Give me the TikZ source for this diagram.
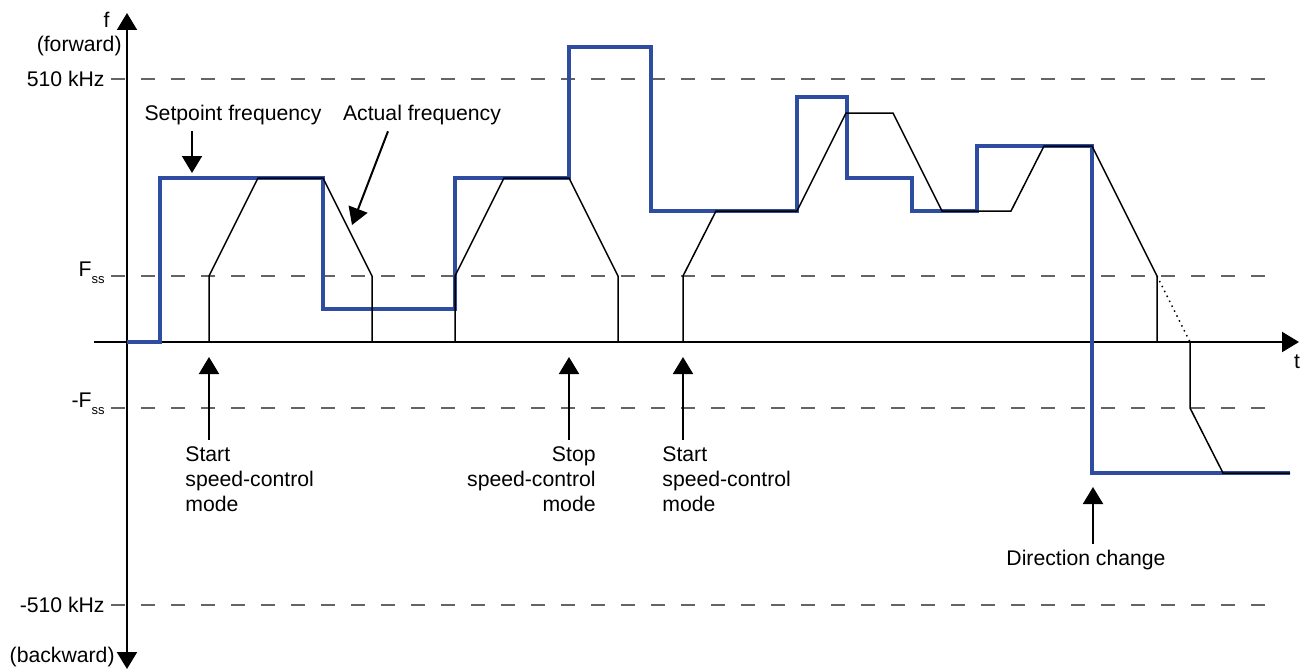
\documentclass[tikz,border=0pt]{standalone}
\usepackage{fontspec}
\setmainfont{Liberation Sans}
\usetikzlibrary{arrows.meta}
\definecolor{setblue}{RGB}{46,77,160}
\definecolor{dashgray}{RGB}{100,100,100}
\newcommand{\Fss}{F\raisebox{-3.5pt}{\fontsize{6.5}{7}\selectfont ss}}
\begin{document}
\begin{tikzpicture}[>={Triangle[width=10pt,length=8.5pt]}, x=5pt, y=5pt,
    font=\fontsize{10.6}{12.5}\selectfont,
    lbl/.style={inner xsep=0pt, inner ysep=3pt},
    level/.style={dashgray, line width=0.75pt, dash pattern=on 7pt off 8pt},
    arr/.style={->, line width=1pt}]
            \useasboundingbox (-12.7,-32.8) rectangle (117.3,34.2);
            % levels
            \draw[level] (-1.6,26.3)--(114.8,26.3);
            \draw[level] (-1.6,6.6)--(114.8,6.6);
            \draw[level] (-1.6,-6.6)--(114.8,-6.6);
            \draw[level] (-1.6,-26.3)--(114.8,-26.3);
            \node[lbl, anchor=east] (fmax) at (-2.2,26.3) {510 kHz};
            \node[lbl, anchor=base east] (fss) at (-2.2,6.6) {\Fss};
            \node[lbl, anchor=base east] (mfss) at (-2.2,-6.5) {-\Fss};
            \node[lbl, anchor=east] (fmin) at (-2.2,-26.3) {-510 kHz};
            % axes
            \draw[->, line width=1pt] (-3.3,0)--(117.2,0);
            \draw[<->, line width=1pt] (0,-32.7)--(0,32.9);
            \node[lbl, anchor=east] (f) at (-1.7,32.2) {f};
            \node[lbl, anchor=east] (fwd) at (-0.5,29.6) {(forward)};
            \node[lbl, anchor=east] (bwd) at (-1.2,-31.5) {(backward)};
            \node[lbl, anchor=north] (t) at (117.0,-0.6) {t};
            % setpoint frequency
            \draw[setblue, line width=2pt, line join=miter] (0,0)--(3.3,0)--(3.3,16.4)--(19.6,16.4)--(19.6,3.3)
                --(32.8,3.3)--(32.8,16.4)--(44.2,16.4)--(44.2,29.5)--(52.4,29.5)--(52.4,13.1)
                --(67.0,13.1)--(67.0,24.5)--(72.0,24.5)--(72.0,16.4)--(78.5,16.4)--(78.5,13.1)
                --(85.0,13.1)--(85.0,19.6)--(96.5,19.6)--(96.5,-13.1)--(116.3,-13.1);
            % actual frequency
            \draw[line width=0.75pt] (8.2,0)--(8.2,6.6)--(13.1,16.4)--(19.6,16.4)--(24.5,6.6)--(24.5,0)
                --(32.8,0)--(32.8,6.6)--(37.7,16.4)--(44.2,16.4)--(49.1,6.6)--(49.1,0)
                --(55.6,0)--(55.6,6.6)--(58.9,13.1)--(67.0,13.1)--(71.9,22.9)--(76.6,22.9)
                --(81.5,13.1)--(88.4,13.1)--(91.7,19.6)--(96.5,19.6)--(103.0,6.6)--(103.0,0)
                --(106.3,0)--(106.3,-6.6)--(109.6,-13.1)--(116.3,-13.1);
            \draw[line width=0.75pt, dotted] (103.0,6.6)--(106.3,0);
            % labels and pointers
            \node[lbl] (sp) at (10.6,22.7) {Setpoint frequency};
            \node[lbl] (af) at (29.5,22.7) {Actual frequency};
            \coordinate (spTip) at (6.5,16.9);
            \coordinate (afTail) at (26.1,0);
            \coordinate (afTip) at (22.5,11.7);
            \draw[arr] (spTip |- sp.south)--(spTip);
            \draw[arr] (afTail |- af.south)--(afTip);
            \node[lbl, anchor=north west, align=left] (start1) at (5.8,-9.8) {Start\\speed-control\\mode};
            \node[lbl, anchor=north east, align=right] (stop) at (46.9,-9.8) {Stop\\speed-control\\mode};
            \node[lbl, anchor=north west, align=left] (start2) at (53.5,-9.8) {Start\\speed-control\\mode};
            \node[lbl, anchor=north] (dir) at (95.9,-20.2) {Direction change};
            \coordinate (c1) at (8.2,-1.5);
            \coordinate (c2) at (44.2,-1.5);
            \coordinate (c3) at (55.6,-1.5);
            \coordinate (c4) at (96.6,-14.5);
            \draw[arr] (c1 |- start1.north)--(c1);
            \draw[arr] (c2 |- stop.north)--(c2);
            \draw[arr] (c3 |- start2.north)--(c3);
            \draw[arr] (c4 |- dir.north)--(c4);
    \end{tikzpicture}
\end{document}
